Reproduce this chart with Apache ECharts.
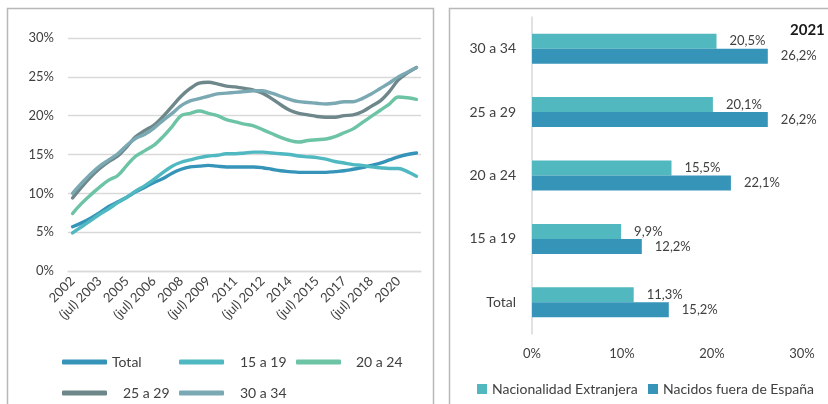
<!DOCTYPE html>
<html>
<head>
<meta charset="utf-8">
<script src="https://cdn.jsdelivr.net/npm/echarts@6/dist/echarts.min.js"></script>
<style>html,body{margin:0;padding:0;background:#fff}#c{width:828px;height:404px}</style>
</head>
<body>
<div id="c"></div>
<script>
// ---- Left chart data (semiannual, 2002 to 2021) ----
const periods = [];
for (let y = 2002; y <= 2021; y++) {
  periods.push(String(y));
  if (y < 2021) periods.push('(jul) ' + y);
}
const total   = [5.7, 6.2, 6.8, 7.5, 8.3, 8.9, 9.5, 10.2, 10.8, 11.4, 11.9, 12.6, 13.1, 13.4, 13.5, 13.6, 13.5, 13.4, 13.4, 13.4, 13.4, 13.3, 13.1, 12.9, 12.8, 12.7, 12.7, 12.7, 12.7, 12.8, 12.9, 13.1, 13.3, 13.6, 13.9, 14.3, 14.7, 15.0, 15.2];
const a15a19  = [4.9, 5.7, 6.5, 7.3, 8.0, 8.8, 9.5, 10.3, 11.0, 11.8, 12.7, 13.5, 14.0, 14.3, 14.6, 14.8, 14.9, 15.1, 15.1, 15.2, 15.3, 15.3, 15.2, 15.1, 15.0, 14.8, 14.7, 14.6, 14.4, 14.1, 13.9, 13.7, 13.6, 13.4, 13.3, 13.2, 13.2, 12.8, 12.2];
const a20a24  = [7.4, 8.7, 9.8, 10.8, 11.7, 12.3, 13.6, 14.8, 15.5, 16.2, 17.3, 18.6, 20.0, 20.3, 20.6, 20.3, 20.0, 19.5, 19.2, 18.9, 18.7, 18.2, 17.7, 17.2, 16.8, 16.6, 16.8, 16.9, 17.0, 17.3, 17.8, 18.3, 19.1, 19.9, 20.7, 21.5, 22.4, 22.3, 22.1];
const a25a29  = [9.4, 10.8, 12.1, 13.2, 14.1, 14.8, 16.0, 17.3, 18.1, 18.8, 19.9, 21.2, 22.5, 23.5, 24.2, 24.3, 24.1, 23.8, 23.7, 23.5, 23.3, 22.9, 22.2, 21.4, 20.7, 20.3, 20.1, 19.9, 19.8, 19.8, 20.0, 20.1, 20.5, 21.2, 21.9, 23.1, 24.6, 25.5, 26.2];
const a30a34  = [10.0, 11.3, 12.5, 13.5, 14.3, 15.1, 16.2, 17.1, 17.6, 18.4, 19.4, 20.3, 21.3, 21.9, 22.2, 22.5, 22.8, 22.9, 23.0, 23.1, 23.2, 23.2, 22.9, 22.5, 22.1, 21.8, 21.7, 21.6, 21.5, 21.6, 21.8, 21.8, 22.2, 22.8, 23.5, 24.2, 25.0, 25.6, 26.2];
const lineNames = ['Total', '15 a 19', '20 a 24', '25 a 29', '30 a 34'];
const leftTicks = [0, 5, 10, 15, 20, 25, 30];

// ---- Right chart data (2021) ----
const barCats = ['Total', '15 a 19', '20 a 24', '25 a 29', '30 a 34'];
const extranjera = [11.3, 9.9, 15.5, 20.1, 20.5];
const nacidosFuera = [15.2, 12.2, 22.1, 26.2, 26.2];
const barNames = ['Nacionalidad Extranjera', 'Nacidos fuera de España'];
const barYear = '2021';

const FONT = 'Lato';
const TXT = '#404040';
const lineColors = ['#3594b8', '#4fb8c1', '#6cc4a5', '#6e878b', '#7aa9b3'];
const barColors = ['#52b8bf', '#3594b8'];
const fmt = v => v.toFixed(1).replace('.', ',') + '%';

const chart = echarts.init(document.getElementById('c'), null, {renderer: 'canvas'});

const lineData = [total, a15a19, a20a24, a25a29, a30a34];
const lineSeries = lineData.map((d, i) => ({
  name: lineNames[i], type: 'line', xAxisIndex: 0, yAxisIndex: 0,
  data: d, smooth: 0.35, symbol: 'none',
  lineStyle: {width: 3.4, color: lineColors[i], cap: 'round', join: 'round'},
  itemStyle: {color: lineColors[i]}
}));

const legPos = [
  {left: 62, top: 355, pad: 0},
  {left: 179, top: 355, pad: 11},
  {left: 296, top: 355, pad: 10},
  {left: 62, top: 386, pad: 11},
  {left: 179, top: 386, pad: 11}
];
const lineLegends = lineNames.map((n, i) => ({
  data: [n], left: legPos[i].left, top: legPos[i].top, padding: 0,
  icon: 'roundRect', itemWidth: 45, itemHeight: 5, itemGap: 0,
  textStyle: {fontFamily: FONT, fontSize: 14, color: TXT, padding: [0, 0, 0, legPos[i].pad]}
}));
const barLegends = barNames.map((n, i) => ({
  data: [n], left: i === 0 ? 477 : 648, top: 382, padding: 0,
  icon: 'rect', itemWidth: 10, itemHeight: 10, itemGap: 0,
  textStyle: {fontFamily: FONT, fontSize: 14, color: TXT}
}));

const barSeries = [extranjera, nacidosFuera].map((d, i) => ({
  name: barNames[i], type: 'bar', xAxisIndex: 1, yAxisIndex: 1,
  data: d, barWidth: 15, barGap: '0%',
  itemStyle: {color: barColors[i]},
  label: {show: true, position: 'right', distance: 13, formatter: p => fmt(p.value),
    fontFamily: FONT, fontSize: 13, color: TXT}
}));

chart.setOption({
  animation: false,
  textStyle: {fontFamily: FONT},
  graphic: [
    {type: 'rect', shape: {x: 7.5, y: 8.5, width: 426, height: 410}, style: {fill: 'none', stroke: '#b8b8b8', lineWidth: 1.5}, silent: true},
    {type: 'rect', shape: {x: 449.5, y: 8.5, width: 420, height: 410}, style: {fill: 'none', stroke: '#b8b8b8', lineWidth: 1.5}, silent: true},
    {type: 'text', left: 790, top: 23, style: {text: barYear, font: 'bold 15px Lato', fill: '#1a1a1a'}}
  ],
  legend: lineLegends.concat(barLegends),
  grid: [
    {left: 68, right: 407, top: 38, bottom: 133},
    {left: 532, right: 26, top: 17, bottom: 70}
  ],
  xAxis: [
    {type: 'category', gridIndex: 0, data: periods, boundaryGap: true,
      axisLine: {show: true, lineStyle: {color: '#d9d9d9', width: 1.3}},
      axisTick: {show: false},
      axisLabel: {interval: 2, rotate: 45, margin: 8, fontFamily: FONT, fontSize: 13, color: TXT}},
    {type: 'value', gridIndex: 1, min: 0, max: 30, interval: 10,
      splitLine: {show: false}, axisLine: {show: false}, axisTick: {show: false},
      axisLabel: {margin: 13, formatter: v => v + '%', fontFamily: FONT, fontSize: 13, color: TXT}},
  ],
  yAxis: [
    {type: 'value', gridIndex: 0, min: leftTicks[0], max: leftTicks[leftTicks.length - 1], interval: 5,
      axisLine: {show: false}, axisTick: {show: false},
      splitLine: {lineStyle: {color: '#d9d9d9', width: 1.3}},
      axisLabel: {margin: 14, formatter: v => v + '%', fontFamily: FONT, fontSize: 13, color: TXT}},
    {type: 'category', gridIndex: 1, data: barCats,
      axisLine: {show: true, lineStyle: {color: '#d9d9d9', width: 1.5}},
      axisTick: {show: false},
      axisLabel: {margin: 16, fontFamily: FONT, fontSize: 14, color: TXT}}
  ],
  series: lineSeries.concat(barSeries)
});
</script>
</body>
</html>
